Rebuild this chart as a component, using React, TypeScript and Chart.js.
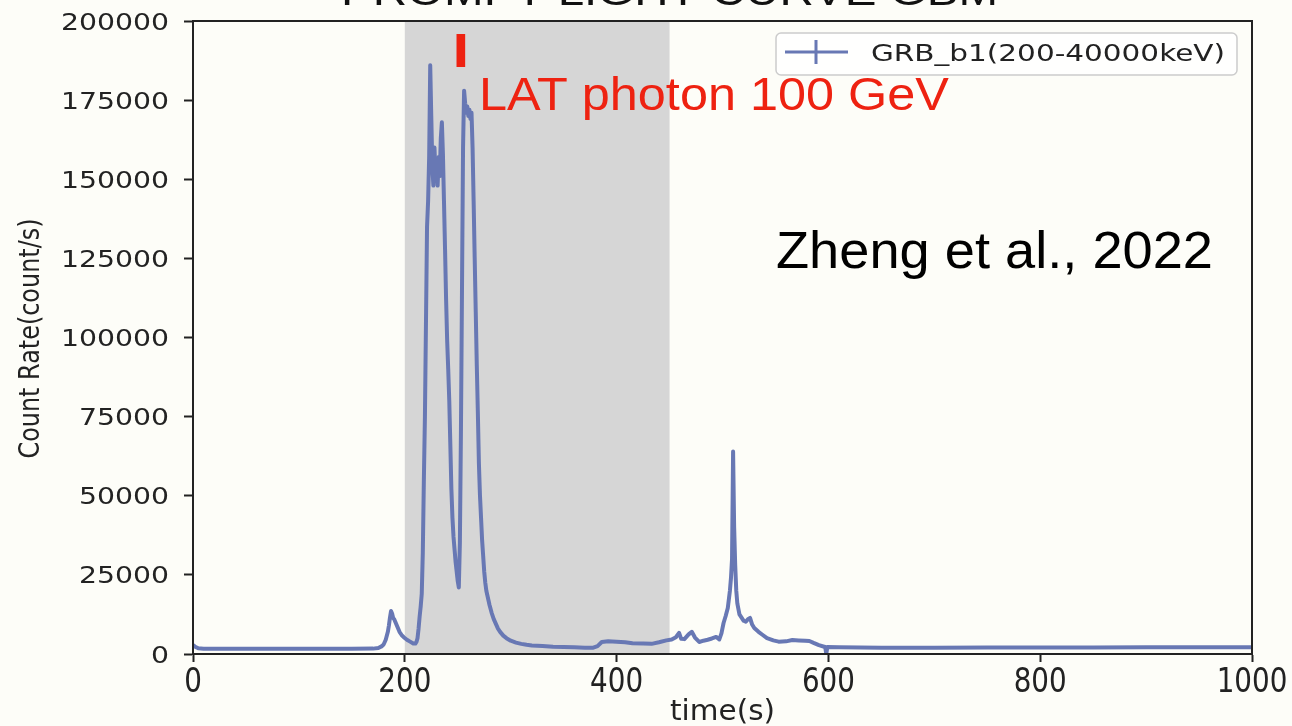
import React, { useEffect, useRef } from "react";
import { Chart, registerables } from "chart.js";

Chart.register(...registerables);

// GBM b1 light curve, 200-40000 keV
const times = [
  0, 2, 5, 10, 30, 60, 90, 120, 150, 170, 175, 178, 180, 182, 184, 185, 186, 187, 188, 189,
  190, 191, 193, 195, 197, 199, 202, 205, 208, 210, 211, 212, 213, 214, 215, 216, 217, 218, 219, 220,
  221, 222, 223, 224, 225, 226, 227, 228, 229, 230, 231, 232, 233, 234, 235, 236, 237, 238, 239, 240,
  241, 242, 243, 244, 245, 246, 247, 248, 249, 250, 251, 252, 253, 254, 255, 256, 257, 258, 259, 260,
  261, 262, 263, 264, 265, 266, 267, 268, 269, 270, 271, 272, 273, 274, 275, 276, 277, 278, 279, 280,
  282, 284, 286, 288, 290, 293, 296, 300, 305, 310, 315, 320, 330, 340, 350, 360, 370, 378, 382, 386,
  392, 400, 408, 415, 425, 433, 440, 447, 452, 456, 459, 461, 464, 468, 471, 474, 478, 482, 486, 490,
  494, 497, 499, 501, 503, 505, 507, 508, 509, 510, 511, 512, 513, 514, 516, 518, 520, 522, 524, 526,
  528, 530, 534, 538, 542, 548, 553, 560, 566, 572, 578, 582, 586, 591, 596, 597, 598, 599, 610, 650,
  700, 750, 800, 850, 900, 950, 1000,
];

const rates = [
  2800, 2300, 1800, 1650, 1650, 1650, 1650, 1650, 1650, 1700, 1900, 2400, 3000, 4500, 7000, 9000, 11500, 13600, 12800, 11400,
  11000, 10200, 8600, 7000, 6000, 5300, 4500, 3900, 3300, 3300, 3800, 5000, 8000, 11800, 15000, 19000, 32000, 55000, 75000, 105000,
  135000, 143000, 157000, 186000, 170000, 154000, 148000, 160000, 152000, 156000, 148000, 157000, 151000, 163000, 168000, 158000, 143000, 128000, 112000, 99000,
  90000, 80000, 66000, 52000, 43000, 37000, 33000, 29000, 26000, 23000, 21000, 35000, 70000, 115000, 160000, 178000, 174000, 171000, 173000, 170000,
  172000, 169000, 171000, 160000, 143000, 125000, 108000, 91000, 76000, 60000, 50000, 43000, 36000, 31000, 26000, 22500, 20000, 18500, 17000, 15500,
  13000, 11000, 9500, 8000, 7000, 5800, 5000, 4200, 3600, 3200, 2900, 2700, 2500, 2300, 2200, 2100, 2000, 2000, 2500, 3800,
  4000, 3900, 3700, 3400, 3300, 3200, 3700, 4300, 4600, 5300, 6700, 4800, 4700, 6200, 7000, 5200, 3800, 4200, 4500, 4900,
  5400, 4600, 6500, 9800, 12000, 14500, 20000, 24000, 30000, 64000, 40000, 28000, 20000, 16000, 12500, 11500, 10500, 10200, 11000, 11400,
  9300, 8200, 7000, 6000, 5000, 4300, 3900, 4000, 4400, 4300, 4200, 4100, 3500, 2800, 2300, 2200, 0, 2200, 2100, 2000,
  2000, 2050, 2050, 2050, 2100, 2100, 2100,
];

const xTickValues = [0, 200, 400, 600, 800, 1000];
const yTickValues = [0, 25000, 50000, 75000, 100000, 125000, 150000, 175000, 200000];

const shadeStart = 200;
const shadeEnd = 450;
const latPhotonTime = 253;

const seriesLabel = "GRB_b1(200-40000keV)";
const titleText = "PROMPT LIGHT CURVE GBM";
const latText = "LAT photon 100 GeV";
const refText = "Zheng et al., 2022";
const xTitle = "time(s)";
const yTitle = "Count Rate(count/s)";

const BG = "#fdfdf8";
const LINE = "rgb(104,120,180)";
const AXIS = "#222222";
const RED = "#ee2211";

// draws text squeezed/stretched horizontally so that it spans `width` pixels
function fitText(
  ctx: CanvasRenderingContext2D,
  text: string,
  x: number,
  y: number,
  width: number,
  font: string,
  color: string,
  align: CanvasTextAlign = "left"
) {
  ctx.save();
  ctx.font = font;
  ctx.fillStyle = color;
  ctx.textBaseline = "alphabetic";
  ctx.textAlign = align;
  const w = ctx.measureText(text).width;
  ctx.translate(x, y);
  ctx.scale(width / w, 1);
  ctx.fillText(text, 0, 0);
  ctx.restore();
}

function scaledText(
  ctx: CanvasRenderingContext2D,
  text: string,
  x: number,
  y: number,
  sx: number,
  font: string,
  color: string,
  align: CanvasTextAlign
) {
  ctx.save();
  ctx.font = font;
  ctx.fillStyle = color;
  ctx.textBaseline = "alphabetic";
  ctx.textAlign = align;
  ctx.translate(x, y);
  ctx.scale(sx, 1);
  ctx.fillText(text, 0, 0);
  ctx.restore();
}

const decorPlugin = {
  id: "decor",
  beforeDraw(chart: any) {
    const { ctx, width, height } = chart;
    ctx.save();
    ctx.fillStyle = BG;
    ctx.fillRect(0, 0, width, height);
    ctx.restore();
  },
  beforeDatasetsDraw(chart: any) {
    const { ctx, chartArea, scales } = chart;
    const x0 = scales.x.getPixelForValue(shadeStart);
    const x1 = scales.x.getPixelForValue(shadeEnd);
    ctx.save();
    ctx.fillStyle = "#d6d6d6";
    ctx.fillRect(x0, chartArea.top, x1 - x0, chartArea.bottom - chartArea.top);
    ctx.restore();
  },
  afterDatasetsDraw(chart: any) {
    const { ctx, chartArea, scales } = chart;
    const { left, right, top, bottom } = chartArea;

    // frame
    ctx.save();
    ctx.strokeStyle = AXIS;
    ctx.lineWidth = 2;
    ctx.strokeRect(left, top, right - left, bottom - top);
    ctx.restore();

    // y tick labels
    ctx.save();
    ctx.font = "23px 'DejaVu Sans'";
    const ySx = 108 / ctx.measureText("200000").width;
    ctx.restore();
    for (const v of yTickValues) {
      const py = scales.y.getPixelForValue(v);
      scaledText(ctx, String(v), 169, py + 8.5, ySx, "23px 'DejaVu Sans'", AXIS, "right");
    }

    // x tick labels
    ctx.save();
    ctx.font = "33px 'DejaVu Sans'";
    const xSx = 53 / ctx.measureText("200").width;
    ctx.restore();
    for (const v of xTickValues) {
      const px = scales.x.getPixelForValue(v);
      scaledText(ctx, String(v), px, 692, xSx, "33px 'DejaVu Sans'", AXIS, "center");
    }

    // axis titles
    fitText(ctx, xTitle, (left + right) / 2, 720, 105, "28px 'DejaVu Sans'", AXIS, "center");
    ctx.save();
    ctx.font = "24px 'DejaVu Sans'";
    ctx.fillStyle = AXIS;
    ctx.textAlign = "center";
    ctx.textBaseline = "alphabetic";
    const yw = ctx.measureText(yTitle).width;
    ctx.translate(39, (top + bottom) / 2 + 1);
    ctx.scale(1.15, 1);
    ctx.rotate(-Math.PI / 2);
    ctx.scale(240 / yw, 1);
    ctx.fillText(yTitle, 0, 0);
    ctx.restore();

    // chart title, mostly above the page edge
    fitText(ctx, titleText, 341, 5, 657, "40px 'Liberation Sans'", "#111111");

    // LAT photon marker and label
    const lx = scales.x.getPixelForValue(latPhotonTime);
    scaledText(ctx, "I", lx, 67, 1.25, "bold 48px 'Liberation Sans'", RED, "center");
    fitText(ctx, latText, 479, 110, 470, "46px 'Liberation Sans'", RED);

    // reference
    fitText(ctx, refText, 776, 268, 437, "52px 'Liberation Sans'", "#000000");

    // legend
    ctx.save();
    ctx.beginPath();
    ctx.roundRect(776, 33, 461, 42, 5);
    ctx.fillStyle = "rgba(255,255,255,0.8)";
    ctx.fill();
    ctx.strokeStyle = "#cccccc";
    ctx.lineWidth = 1.5;
    ctx.stroke();
    ctx.strokeStyle = LINE;
    ctx.lineWidth = 3;
    ctx.beginPath();
    ctx.moveTo(785, 52);
    ctx.lineTo(848, 52);
    ctx.moveTo(816, 40);
    ctx.lineTo(816, 64);
    ctx.stroke();
    ctx.restore();
    fitText(ctx, seriesLabel, 871, 61, 354, "23px 'DejaVu Sans'", "#222222");
  },
};

export default function App() {
  const canvasRef = useRef<HTMLCanvasElement | null>(null);

  useEffect(() => {
    document.body.style.margin = "0";
    document.body.style.background = BG;
    const canvas = canvasRef.current;
    if (!canvas) return;

    const points = times.map((t, i) => ({ x: t, y: rates[i] }));

    const chart = new Chart(canvas, {
      type: "line",
      data: {
        datasets: [
          {
            label: seriesLabel,
            data: points,
            borderColor: LINE,
            borderWidth: 4,
            borderJoinStyle: "round",
            borderCapStyle: "round",
            pointRadius: 0,
            tension: 0,
            fill: false,
          },
        ],
      },
      options: {
        animation: false,
        responsive: false,
        devicePixelRatio: 1,
        layout: { padding: { top: 21, right: 40, left: 0, bottom: 0 } },
        plugins: {
          legend: { display: false },
          tooltip: { enabled: false },
          title: { display: false },
        },
        scales: {
          x: {
            type: "linear",
            min: 0,
            max: 1000,
            afterBuildTicks: (scale: any) => {
              scale.ticks = xTickValues.map((v) => ({ value: v }));
            },
            ticks: { display: false },
            grid: {
              display: true,
              drawOnChartArea: false,
              drawTicks: true,
              tickLength: 8,
              color: "transparent",
              tickColor: AXIS,
              tickWidth: 2,
            },
            border: { display: true, color: AXIS, width: 2 },
            afterFit: (scale: any) => {
              scale.height = 72;
            },
          },
          y: {
            type: "linear",
            min: 0,
            max: 200000,
            afterBuildTicks: (scale: any) => {
              scale.ticks = yTickValues.map((v) => ({ value: v }));
            },
            ticks: { display: false },
            grid: {
              display: true,
              drawOnChartArea: false,
              drawTicks: true,
              tickLength: 9,
              color: "transparent",
              tickColor: AXIS,
              tickWidth: 2,
            },
            border: { display: true, color: AXIS, width: 2 },
            afterFit: (scale: any) => {
              scale.width = 193;
            },
          },
        },
      },
      plugins: [decorPlugin],
    });

    return () => chart.destroy();
  }, []);

  return (
    <div style={{ position: "fixed", left: 0, top: 0, width: 1292, height: 726, background: BG }}>
      <canvas ref={canvasRef} width={1292} height={726} style={{ display: "block" }} />
    </div>
  );
}
